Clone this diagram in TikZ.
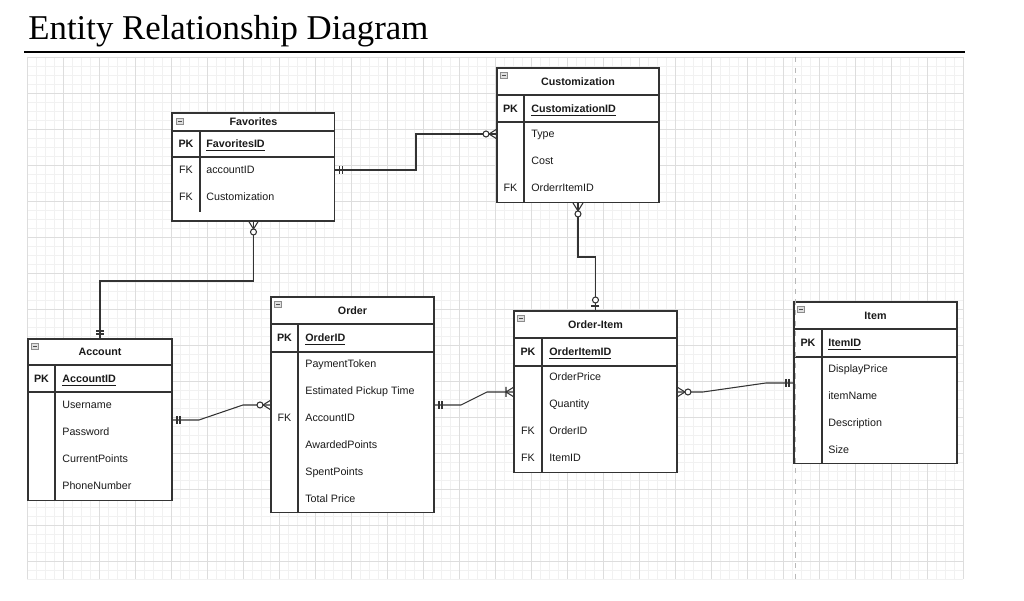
\documentclass[tikz,border=0pt]{standalone}
\usepackage{fontspec}
\setmainfont{Liberation Serif}
\setsansfont{Liberation Sans}
\usepackage{xcolor}
\usepackage{tikz}
\definecolor{linec}{HTML}{333333}
\definecolor{txtc}{HTML}{1A1A1A}
\definecolor{gridf}{HTML}{F1F1F1}
\definecolor{gridm}{HTML}{DDDDDD}
\definecolor{icoc}{HTML}{8C8C8C}
\tikzset{
  tbl/.style={draw=linec,fill=white,line width=0.6pt,anchor=north west,inner sep=0pt,outer sep=0pt},
  ln/.style={draw=linec,line width=0.6pt},
  hdrtxt/.style={font=\sffamily\bfseries\fontsize{6.1}{7}\selectfont,text=txtc,inner sep=0pt,text height=4.4pt,text depth=0pt},
  keytxt/.style={font=\sffamily\fontsize{6.1}{7}\selectfont,text=txtc,inner sep=0pt,text height=4.4pt,text depth=0pt},
  pktxt/.style={keytxt,font=\sffamily\bfseries\fontsize{6.1}{7}\selectfont},
  fldtxt/.style={keytxt,anchor=west},
  pkfld/.style={pktxt,anchor=west},
  ico/.style={draw=icoc,fill=gray!25,line width=0.4pt,minimum width=0.14cm,minimum height=0.12cm,inner sep=0pt,
    path picture={\draw[black!70,line width=0.5pt] ([xshift=0.035cm]path picture bounding box.west)--([xshift=-0.035cm]path picture bounding box.east);}},
  onemark/.pic={\draw[ln] (-5,-4)--(-5,4) (-8,-4)--(-8,4);},
  zmany/.pic={\draw[ln] (0,-5)--(-8,0)--(0,5); \draw[ln,fill=white] (-11,0) circle[radius=3];},
  omany/.pic={\draw[ln] (0,-5)--(-8,0)--(0,5) (-8,-5)--(-8,5);},
  zone/.pic={\draw[ln] (-5,-4)--(-5,4); \draw[ln,fill=white] (-11,0) circle[radius=3];}
}
\begin{document}
\begin{tikzpicture}[x=0.02cm,y=-0.02cm]
\useasboundingbox[fill=white] (0,0) rectangle (1024,601);
% title
\node[anchor=base west,inner sep=0pt,font=\fontsize{19.8}{22}\selectfont] (title) at (28,40) {Entity Relationship Diagram};
\draw[black,line width=1.1pt] (24,52)--(965,52);
% grid
\foreach \x in {27,36,...,963} \draw[gridf,line width=0.4pt] (\x,57)--(\x,579);
\foreach \y in {57,66,...,579} \draw[gridf,line width=0.4pt] (27,\y)--(963,\y);
\foreach \x in {27,63,...,963} \draw[gridm,line width=0.4pt] (\x,57)--(\x,579);
\foreach \y in {57,93,...,579} \draw[gridm,line width=0.4pt] (27,\y)--(963,\y);

% Favorites
\node[tbl,minimum width=3.26cm,minimum height=2.16cm] (fav) at (172,113) {};
\draw[ln] (172,131)--(335,131) (172,157)--(335,157) (200,131)--(200,212);
\node[ico] (fav-i) at (180,121) {};
\node[hdrtxt] (fav-t) at (253.5,122) {Favorites};
\node[pktxt] (fav-pk) at (186,144) {PK};
\node[pkfld] (fav-id) at (206,144) {\underline{FavoritesID}};
\foreach \t [count=\i] in {accountID,Customization}{
  \node[keytxt] (fav-k\i) at (186,143+27*\i) {FK};
  \node[fldtxt] (fav-f\i) at (206,143+27*\i) {\t};}

% Customization
\node[tbl,minimum width=3.24cm,minimum height=2.70cm] (cust) at (497,68) {};
\draw[ln] (497,95)--(659,95) (497,122)--(659,122) (524,95)--(524,203);
\node[ico] (cust-i) at (504,75) {};
\node[hdrtxt] (cust-t) at (578,81.5) {Customization};
\node[pktxt] (cust-pk) at (510.5,108.5) {PK};
\node[pkfld] (cust-id) at (531,108.5) {\underline{CustomizationID}};
\foreach \t [count=\i] in {Type,Cost,OrderrItemID}
  \node[fldtxt] (cust-f\i) at (531,107+27*\i) {\t};
\node[keytxt] (cust-k3) at (510.5,188) {FK};

% Account
\node[tbl,minimum width=2.88cm,minimum height=3.24cm] (acc) at (28,339) {};
\draw[ln] (28,365)--(172,365) (28,392)--(172,392) (55,365)--(55,501);
\node[ico] (acc-i) at (35,346) {};
\node[hdrtxt] (acc-t) at (100,352) {Account};
\node[pktxt] (acc-pk) at (41.5,378.5) {PK};
\node[pkfld] (acc-id) at (62,378.5) {\underline{AccountID}};
\foreach \t [count=\i] in {Username,Password,CurrentPoints,PhoneNumber}
  \node[fldtxt] (acc-f\i) at (62,378+27*\i) {\t};

% Order
\node[tbl,minimum width=3.26cm,minimum height=4.32cm] (ord) at (271,297) {};
\draw[ln] (271,324)--(434,324) (271,352)--(434,352) (298,324)--(298,513);
\node[ico] (ord-i) at (278,304) {};
\node[hdrtxt] (ord-t) at (352.5,311) {Order};
\node[pktxt] (ord-pk) at (284.5,338) {PK};
\node[pkfld] (ord-id) at (305,338) {\underline{OrderID}};
\foreach \t [count=\i] in {PaymentToken,Estimated Pickup Time,AccountID,AwardedPoints,SpentPoints,Total Price}
  \node[fldtxt] (ord-f\i) at (305,337+27*\i) {\t};
\node[keytxt] (ord-k3) at (284.5,418) {FK};

% Order-Item
\node[tbl,minimum width=3.26cm,minimum height=3.24cm] (oi) at (514,311) {};
\draw[ln] (514,338)--(677,338) (514,366)--(677,366) (542,338)--(542,473);
\node[ico] (oi-i) at (521,318) {};
\node[hdrtxt] (oi-t) at (595.5,324.5) {Order-Item};
\node[pktxt] (oi-pk) at (528,352) {PK};
\node[pkfld] (oi-id) at (549,352) {\underline{OrderItemID}};
\foreach \t [count=\i] in {OrderPrice,Quantity,OrderID,ItemID}
  \node[fldtxt] (oi-f\i) at (549,350+27*\i) {\t};
\node[keytxt] (oi-k3) at (528,431) {FK};
\node[keytxt] (oi-k4) at (528,458) {FK};

% Item
\node[tbl,minimum width=3.26cm,minimum height=3.24cm] (item) at (794,302) {};
\draw[ln] (794,329)--(957,329) (794,357)--(957,357) (822,329)--(822,464);
\node[ico] (item-i) at (801,309) {};
\node[hdrtxt] (item-t) at (875.5,315.5) {Item};
\node[pktxt] (item-pk) at (808,343) {PK};
\node[pkfld] (item-id) at (828,343) {\underline{ItemID}};
\foreach \t [count=\i] in {DisplayPrice,itemName,Description,Size}
  \node[fldtxt] (item-f\i) at (828,342+27*\i) {\t};

% page break
\draw[gray!55,dashed,line width=0.5pt] (795,57)--(795,579);

% relations
\draw[ln] (fav-f1 -| fav.east) -- ++(81,0) |- (cust-f1 -| cust.west);
\path (fav-f1 -| fav.east) pic[rotate=180]{onemark} (cust-f1 -| cust.west) pic{zmany};
\draw[ln] (fav.south) -- ++(0,60) -| (acc.north);
\path (fav.south) pic[rotate=90]{zmany} (acc.north) pic[rotate=-90]{onemark};
\draw[ln] (acc.east) -- ++(27,0) -- ([xshift=-0.56cm]ord.west) -- (ord.west);
\path (acc.east) pic[rotate=180]{onemark} (ord.west) pic{zmany};
\draw[ln] (ord.east) -- ++(27,0) -- ([xshift=-0.54cm]oi.west) -- (oi.west);
\path (ord.east) pic[rotate=180]{onemark} (oi.west) pic{omany};
\draw[ln] (cust.south) -- ++(0,54) -| (oi.north);
\path (cust.south) pic[rotate=90]{zmany} (oi.north) pic[rotate=-90]{zone};
\draw[ln] (oi.east) -- ++(26,0) -- ([xshift=-0.56cm]item.west) -- (item.west);
\path (oi.east) pic[rotate=180]{zmany} (item.west) pic{onemark};
\end{tikzpicture}
\end{document}
